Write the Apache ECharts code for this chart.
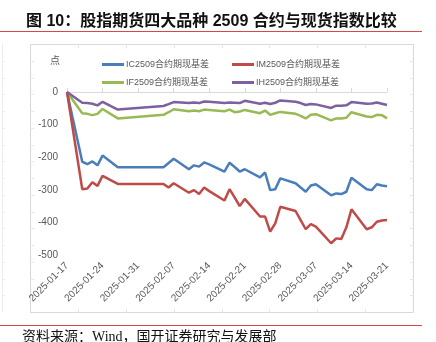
<!DOCTYPE html>
<html>
<head>
<meta charset="utf-8">
<script src="https://cdn.jsdelivr.net/npm/echarts@6/dist/echarts.min.js"></script>
<style>
  html, body { margin: 0; padding: 0; background: #ffffff; }
  #chart { width: 436px; height: 342px; }
</style>
</head>
<body>
<div id="chart"></div>
<script>
// Trading days covered by the 2509 contracts' basis series
const dates = [
  '2025-01-17','2025-01-20','2025-01-21','2025-01-22','2025-01-23','2025-01-24','2025-01-27',
  '2025-02-05','2025-02-06','2025-02-07',
  '2025-02-10','2025-02-11','2025-02-12','2025-02-13','2025-02-14',
  '2025-02-17','2025-02-18','2025-02-19','2025-02-20','2025-02-21',
  '2025-02-24','2025-02-25','2025-02-26','2025-02-27','2025-02-28',
  '2025-03-03','2025-03-04','2025-03-05','2025-03-06','2025-03-07',
  '2025-03-10','2025-03-11','2025-03-12','2025-03-13','2025-03-14',
  '2025-03-17','2025-03-18','2025-03-19','2025-03-20','2025-03-21'
];

// Futures-minus-spot basis, index points
const icBasis = [
  0, -214, -221, -213, -225, -195, -231,
  -231, -218, -205,
  -237, -225, -229, -216, -222,
  -244, -217, -230, -244, -237,
  -262, -247, -301, -298, -265,
  -280, -293, -306, -287, -283,
  -317, -311, -313, -306, -263,
  -298, -301, -283, -287, -289
];
const imBasis = [
  0, -298, -296, -277, -288, -257, -282,
  -282, -293, -280,
  -309, -301, -313, -293, -304,
  -333, -298, -323, -350, -328,
  -382, -382, -428, -403, -352,
  -365, -393, -421, -405, -413,
  -464, -449, -451, -415, -360,
  -421, -415, -398, -394, -393
];
const ifBasis = [
  0, -65, -67, -71, -67, -52, -81,
  -70, -62, -53,
  -59, -57, -59, -54, -55,
  -59, -54, -62, -60, -55,
  -65, -57, -70, -65, -61,
  -67, -73, -81, -70, -68,
  -87, -81, -81, -79, -62,
  -75, -77, -70, -71, -81
];
const ihBasis = [
  0, -33, -34, -36, -41, -30, -54,
  -43, -37, -31,
  -34, -32, -34, -29, -30,
  -34, -32, -33, -34, -27,
  -36, -33, -37, -33, -26,
  -30, -34, -40, -37, -38,
  -49, -42, -42, -41, -31,
  -36, -35, -32, -36, -40
];

const seriesNames = ['IC2509合约期现基差', 'IM2509合约期现基差', 'IF2509合约期现基差', 'IH2509合约期现基差'];
const seriesValues = [icBasis, imBasis, ifBasis, ihBasis];
const seriesColors = ['#4a7ebb', '#be4b48', '#98b954', '#7d60a0'];

const yTicks = { min: -500, max: 0, step: 100 };

// Calendar-day axis: x is days elapsed since the first trading day
const DAY = 86400000;
const t0 = Date.parse(dates[0]);
const lastDay = (Date.parse(dates[dates.length - 1]) - t0) / DAY;
const dayOffsets = dates.map(d => (Date.parse(d) - t0) / DAY);
const fmtDay = v => new Date(t0 + v * DAY).toISOString().slice(0, 10);

const labelColor = '#595959';
const frameColor = '#d9d9d9';
const sansFont = '"Liberation Sans", "Noto Sans CJK SC", sans-serif';

// Chart frame with its faint tick marks, drawn as decoration
const frame = { x: 30, y: 44, w: 383, h: 268 };
const frameGraphics = [{
  type: 'rect', silent: true,
  shape: { x: frame.x + 0.5, y: frame.y + 0.5, width: frame.w, height: frame.h },
  style: { fill: 'none', stroke: frameColor, lineWidth: 1 }
}];
for (let k = 1; k < 16; k++) {
  const yy = Math.round(frame.y + k * frame.h / 16) + 0.5;
  frameGraphics.push({ type: 'line', silent: true, shape: { x1: frame.x, y1: yy, x2: frame.x + 4, y2: yy }, style: { stroke: '#e6e6e6' } });
  frameGraphics.push({ type: 'line', silent: true, shape: { x1: frame.x + frame.w - 3, y1: yy, x2: frame.x + frame.w + 1, y2: yy }, style: { stroke: '#e6e6e6' } });
  frameGraphics.push({ type: 'line', silent: true, shape: { x1: 2, y1: yy, x2: 5, y2: yy }, style: { stroke: '#ececec' } });
}
for (let k = 1; k < 8; k++) {
  const xx = Math.round(frame.x + k * frame.w / 8) + 0.5;
  frameGraphics.push({ type: 'line', silent: true, shape: { x1: xx, y1: frame.y, x2: xx, y2: frame.y + 4 }, style: { stroke: '#e6e6e6' } });
  frameGraphics.push({ type: 'line', silent: true, shape: { x1: xx, y1: frame.y + frame.h - 3, x2: xx, y2: frame.y + frame.h + 1 }, style: { stroke: '#e6e6e6' } });
}
frameGraphics.push({ type: 'line', silent: true, shape: { x1: 2.5, y1: frame.y, x2: 2.5, y2: frame.y + frame.h }, style: { stroke: '#ececec' } });

const legendSpots = [
  { left: 97, top: 55 },
  { left: 227, top: 55 },
  { left: 97, top: 73 },
  { left: 227, top: 73 }
];

const chart = echarts.init(document.getElementById('chart'), null, { renderer: 'canvas' });

chart.setOption({
  animation: false,
  backgroundColor: '#ffffff',
  title: {
    text: '图 10：股指期货四大品种 2509 合约与现货指数比较',
    left: 21,
    top: 9,
    textStyle: { fontSize: 16, fontWeight: 'bold', color: '#111111', fontFamily: '"Liberation Sans", "Noto Sans CJK SC", sans-serif' }
  },
  legend: seriesNames.map((name, i) => ({
    data: [name],
    left: legendSpots[i].left,
    top: legendSpots[i].top,
    icon: 'rect',
    itemWidth: 22,
    itemHeight: 3,
    selectedMode: false,
    textStyle: { fontSize: 9, color: labelColor, fontFamily: sansFont, padding: [0, 0, 0, -3] }
  })),
  grid: { left: 67, right: 49, top: 92, bottom: 87, containLabel: false },
  xAxis: [
    {
      type: 'value',
      position: 'bottom',
      min: 0, max: lastDay, interval: 7,
      axisLine: { show: false },
      axisTick: { show: false },
      splitLine: { show: false },
      axisLabel: { rotate: 45, fontSize: 10, color: labelColor, margin: 9, fontFamily: sansFont, formatter: fmtDay }
    },
    {
      type: 'value',
      position: 'top',
      min: 0, max: lastDay, interval: 7,
      axisLine: { show: true, lineStyle: { color: frameColor, width: 1 } },
      axisTick: { show: true, length: 4, lineStyle: { color: frameColor } },
      splitLine: { show: false },
      axisLabel: { show: false }
    }
  ],
  yAxis: {
    type: 'value',
    min: yTicks.min, max: yTicks.max, interval: yTicks.step,
    name: '点',
    nameLocation: 'end',
    nameGap: 26,
    nameTextStyle: { fontSize: 10, color: labelColor, align: 'right', padding: [0, 7, 0, 0], fontFamily: sansFont },
    axisLine: { show: false },
    axisTick: { show: false },
    splitLine: { show: false },
    axisLabel: { fontSize: 10, color: labelColor, margin: 9, fontFamily: sansFont }
  },
  series: seriesNames.map((name, i) => ({
    name,
    type: 'line',
    xAxisIndex: 0,
    showSymbol: false,
    symbol: 'none',
    z: [3, 4, 2, 2][i],
    lineStyle: { width: 2.5, color: seriesColors[i] },
    itemStyle: { color: seriesColors[i] },
    data: dayOffsets.map((d, k) => [d, seriesValues[i][k]])
  })),
  graphic: frameGraphics.concat([
    { type: 'line', silent: true, shape: { x1: 0, y1: 31.5, x2: 422, y2: 31.5 }, style: { stroke: '#d24a4a', lineWidth: 1 } },
    { type: 'line', silent: true, shape: { x1: 0, y1: 325.5, x2: 422, y2: 325.5 }, style: { stroke: '#d24a4a', lineWidth: 1 } },
    {
      type: 'text', silent: true, left: 22, top: 330,
      style: { text: '资料来源：Wind，国开证券研究与发展部', fontSize: 14, fill: '#111111', fontFamily: '"Liberation Serif", "Noto Sans CJK SC", serif' }
    }
  ])
});
</script>
</body>
</html>
